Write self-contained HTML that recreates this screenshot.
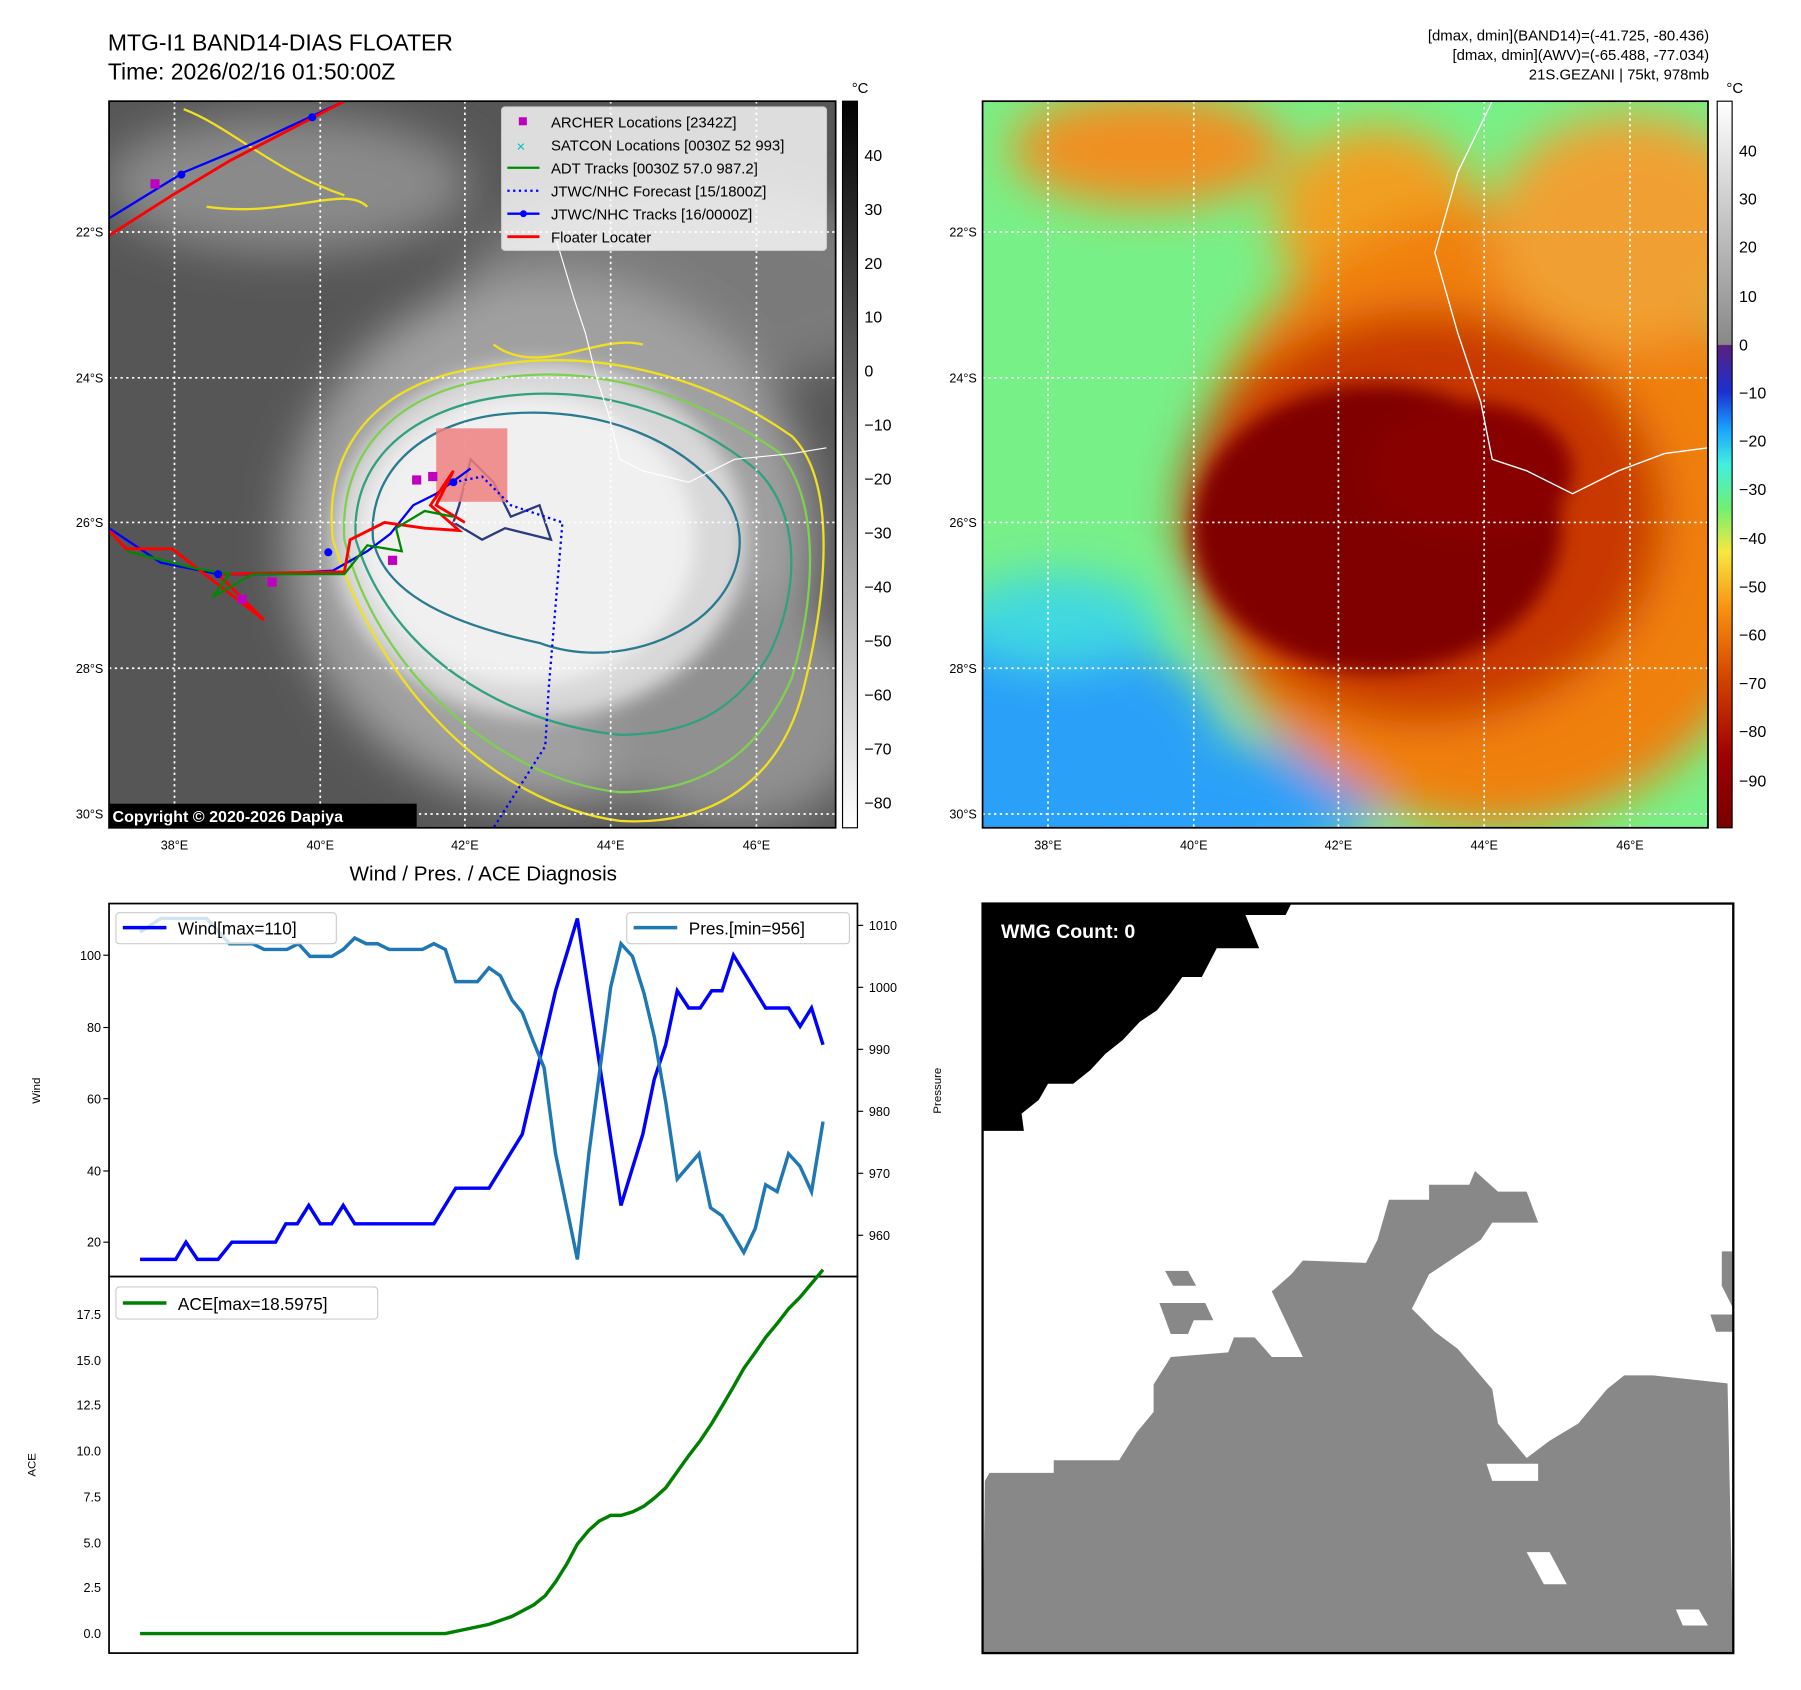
<!DOCTYPE html>
<html><head><meta charset="utf-8"><style>
html,body{margin:0;padding:0;background:#fff}
svg{display:block}
text{font-family:"Liberation Sans","DejaVu Sans",sans-serif}
</style></head><body>
<svg width="1801" height="1690" viewBox="0 0 1569 1472" xmlns="http://www.w3.org/2000/svg">
<defs>
<linearGradient id="cbL" x1="0" y1="1" x2="0" y2="0"><stop offset="0" stop-color="#fff"/><stop offset="1" stop-color="#000"/></linearGradient>
<linearGradient id="cbR" x1="0" y1="0" x2="0" y2="1">
<stop offset="0" stop-color="#ffffff"/><stop offset="0.335" stop-color="#888"/>
<stop offset="0.336" stop-color="#5a2080"/><stop offset="0.4" stop-color="#1a30d0"/><stop offset="0.45" stop-color="#1aa0ff"/><stop offset="0.5" stop-color="#40f0e0"/><stop offset="0.56" stop-color="#70f070"/><stop offset="0.62" stop-color="#f8e840"/><stop offset="0.7" stop-color="#f89010"/><stop offset="0.8" stop-color="#d04000"/><stop offset="0.9" stop-color="#a00000"/><stop offset="1" stop-color="#780000"/></linearGradient>
<filter id="b20" x="-50%" y="-50%" width="200%" height="200%"><feGaussianBlur stdDeviation="20"/></filter>
<filter id="b8" x="-50%" y="-50%" width="200%" height="200%"><feGaussianBlur stdDeviation="8"/></filter>
<clipPath id="cl"><rect x="95" y="88" width="633" height="633"/></clipPath>
<clipPath id="cr"><rect x="856" y="88" width="632" height="633"/></clipPath>
</defs>

<text x="94" y="44" font-size="20">MTG-I1 BAND14-DIAS FLOATER</text>
<text x="94" y="69" font-size="20">Time: 2026/02/16 01:50:00Z</text>
<text x="1489" y="35" font-size="13" text-anchor="end">[dmax, dmin](BAND14)=(-41.725, -80.436)</text>
<text x="1489" y="52" font-size="13" text-anchor="end">[dmax, dmin](AWV)=(-65.488, -77.034)</text>
<text x="1489" y="69" font-size="13" text-anchor="end">21S.GEZANI | 75kt, 978mb</text>

<!-- LEFT MAP -->
<g clip-path="url(#cl)">
<rect x="95" y="88" width="633" height="633" fill="#565656"/>
<g filter="url(#b20)">
<ellipse cx="250" cy="160" rx="160" ry="60" fill="#8a8a8a"/>
<ellipse cx="600" cy="250" rx="200" ry="90" fill="#7a7a7a"/>
<ellipse cx="480" cy="470" rx="230" ry="230" fill="#a0a0a0"/>
<ellipse cx="640" cy="620" rx="120" ry="100" fill="#909090"/>
</g>
<g filter="url(#b8)">
<ellipse cx="470" cy="470" rx="180" ry="155" fill="#d8d8d8"/>
<ellipse cx="460" cy="470" rx="145" ry="125" fill="#f0f0f0"/>
</g>
<g fill="none" stroke-width="2">
<path d="M290,470 C280,380 340,330 420,320 C520,300 620,330 690,380 C730,420 720,520 700,600 C680,680 620,720 540,715 C430,700 330,600 290,470Z" stroke="#f0e020"/>
<path d="M300,470 C295,390 350,340 430,330 C520,315 610,345 680,395 C715,440 710,520 690,590 C660,660 610,690 540,690 C440,680 330,590 300,470Z" stroke="#80d050"/>
<path d="M310,470 C305,400 360,355 440,345 C520,335 600,360 660,410 C700,450 695,520 670,570 C640,620 600,640 540,640 C440,630 340,570 310,470Z" stroke="#30a080"/>
<path d="M325,470 C320,410 370,365 445,360 C520,355 590,380 630,430 C660,470 640,520 600,545 C560,570 510,575 470,560 C400,545 335,520 325,470Z" stroke="#2a7a90"/>
<path d="M400,440 L410,400 L430,420 L445,450 L470,440 L480,470 L440,460 L420,470 L395,455Z" stroke="#2a3a80"/>
<path d="M160,95 C200,110 240,150 300,170 M180,180 C250,190 300,160 320,180 M430,300 C470,330 520,290 560,300" stroke="#f0e020"/>
</g>
<g stroke="#fff" stroke-width="1.5" stroke-dasharray="2,3">
<line x1="152" y1="88" x2="152" y2="721"/><line x1="279" y1="88" x2="279" y2="721"/><line x1="405" y1="88" x2="405" y2="721"/><line x1="532" y1="88" x2="532" y2="721"/><line x1="659" y1="88" x2="659" y2="721"/>
<line x1="95" y1="202" x2="728" y2="202"/><line x1="95" y1="329" x2="728" y2="329"/><line x1="95" y1="455" x2="728" y2="455"/><line x1="95" y1="582" x2="728" y2="582"/><line x1="95" y1="709" x2="728" y2="709"/>
</g>
<path d="M485,210 L500,260 L510,290 L520,330 L530,360 L540,400 L560,410 L600,420 L640,400 L690,395 L720,390" fill="none" stroke="#fff" stroke-width="1"/>
<rect x="380" y="373" width="62" height="64" fill="#f08080" opacity="0.85"/>
<polyline points="95,190 160,150 220,125 300,88" fill="none" stroke="#00f" stroke-width="2"/>
<polyline points="95,205 150,170 200,140 300,88" fill="none" stroke="#f00" stroke-width="2.5"/>
<polyline points="95,460 140,490 190,500 240,500 290,497 320,480 340,465 360,440 380,430 410,408" fill="none" stroke="#00f" stroke-width="2"/>
<polyline points="95,462 110,478 150,478 230,540 190,500 300,498 305,470 335,455 370,460 400,462 375,440 395,410 380,440 405,455" fill="none" stroke="#f00" stroke-width="2.5"/>
<polyline points="110,480 170,495 200,500 185,520 220,500 300,500 320,475 350,480 345,460 370,445 395,450" fill="none" stroke="#080" stroke-width="2"/>
<polyline points="395,420 420,415 445,440 490,455 478,600 475,650 430,721" fill="none" stroke="#00f" stroke-width="2" stroke-dasharray="2,3"/>
<g fill="#00f"><circle cx="158" cy="152" r="3.5"/><circle cx="272" cy="102" r="3.5"/><circle cx="190" cy="500" r="3.5"/><circle cx="286" cy="481" r="3.5"/><circle cx="395" cy="420" r="3.5"/></g>
<g fill="#c000c0"><rect x="131" y="156" width="8" height="8"/><rect x="359" y="414" width="8" height="8"/><rect x="373" y="411" width="8" height="8"/><rect x="338" y="484" width="8" height="8"/><rect x="207" y="518" width="8" height="8"/><rect x="233" y="503" width="8" height="8"/></g>
</g>
<rect x="95" y="88" width="633" height="633" fill="none" stroke="#000" stroke-width="1.5"/>
<rect x="95" y="700" width="268" height="21" fill="#000"/>
<text x="98" y="716" font-size="14" font-weight="bold" fill="#fff">Copyright © 2020-2026 Dapiya</text>
<rect x="437" y="93" width="283" height="125" fill="#fff" fill-opacity="0.8" stroke="#ccc" rx="3"/>
<g font-size="13">
<rect x="452" y="102" width="7" height="7" fill="#c000c0"/><text x="480" y="111">ARCHER Locations [2342Z]</text>
<text x="450" y="132" fill="#00c0c0" font-size="13">×</text><text x="480" y="131">SATCON Locations [0030Z 52 993]</text>
<line x1="442" y1="146" x2="470" y2="146" stroke="#080" stroke-width="2"/><text x="480" y="151">ADT Tracks [0030Z 57.0 987.2]</text>
<line x1="442" y1="166" x2="470" y2="166" stroke="#00f" stroke-width="2" stroke-dasharray="2,3"/><text x="480" y="171">JTWC/NHC Forecast [15/1800Z]</text>
<line x1="442" y1="186" x2="470" y2="186" stroke="#00f" stroke-width="2"/><circle cx="456" cy="186" r="3" fill="#00f"/><text x="480" y="191">JTWC/NHC Tracks [16/0000Z]</text>
<line x1="442" y1="206" x2="470" y2="206" stroke="#f00" stroke-width="2.5"/><text x="480" y="211">Floater Locater</text>
</g>
<rect x="734" y="88" width="13" height="633" fill="url(#cbL)" stroke="#000" stroke-width="1"/>
<text x="742" y="81" font-size="13">°C</text>
<g font-size="14"><text x="753" y="140">40</text><text x="753" y="187">30</text><text x="753" y="234">20</text><text x="753" y="281">10</text><text x="753" y="328">0</text><text x="753" y="375">−10</text><text x="753" y="422">−20</text><text x="753" y="469">−30</text><text x="753" y="516">−40</text><text x="753" y="563">−50</text><text x="753" y="610">−60</text><text x="753" y="657">−70</text><text x="753" y="704">−80</text></g>

<!-- RIGHT MAP -->
<g clip-path="url(#cr)">
<rect x="856" y="88" width="632" height="633" fill="#78f088"/>
<g filter="url(#b20)">
<ellipse cx="890" cy="660" rx="180" ry="120" fill="#2aa0f8"/>
<ellipse cx="1000" cy="700" rx="200" ry="60" fill="#2aa0f8"/>
<ellipse cx="920" cy="540" rx="90" ry="40" fill="#40d8e0"/>
<ellipse cx="1000" cy="130" rx="120" ry="50" fill="#f09020"/>
<ellipse cx="1200" cy="190" rx="90" ry="80" fill="#f0a020"/>
<ellipse cx="1300" cy="450" rx="260" ry="270" fill="#f08010"/>
<ellipse cx="1420" cy="200" rx="120" ry="100" fill="#f0a030"/>
<ellipse cx="1240" cy="450" rx="210" ry="180" fill="#c83800"/>
</g>
<g filter="url(#b8)">
<ellipse cx="1200" cy="460" rx="160" ry="125" fill="#800000"/>
<ellipse cx="1280" cy="410" rx="90" ry="60" fill="#880000"/>
</g>
<g stroke="#fff" stroke-width="1.5" stroke-dasharray="2,3">
<line x1="913" y1="88" x2="913" y2="721"/><line x1="1040" y1="88" x2="1040" y2="721"/><line x1="1166" y1="88" x2="1166" y2="721"/><line x1="1293" y1="88" x2="1293" y2="721"/><line x1="1420" y1="88" x2="1420" y2="721"/>
<line x1="856" y1="202" x2="1488" y2="202"/><line x1="856" y1="329" x2="1488" y2="329"/><line x1="856" y1="455" x2="1488" y2="455"/><line x1="856" y1="582" x2="1488" y2="582"/><line x1="856" y1="709" x2="1488" y2="709"/>
</g>
<path d="M1300,88 L1270,150 L1250,220 L1270,290 L1290,350 L1300,400 L1330,410 L1370,430 L1410,410 L1450,395 L1488,390" fill="none" stroke="#fff" stroke-width="1.2"/>
</g>
<rect x="856" y="88" width="632" height="633" fill="none" stroke="#000" stroke-width="1.5"/>
<rect x="1496" y="88" width="13" height="633" fill="url(#cbR)" stroke="#000" stroke-width="1"/>
<text x="1504" y="81" font-size="13">°C</text>
<g font-size="14"><text x="1515" y="136">40</text><text x="1515" y="178">30</text><text x="1515" y="220">20</text><text x="1515" y="263">10</text><text x="1515" y="305">0</text><text x="1515" y="347">−10</text><text x="1515" y="389">−20</text><text x="1515" y="431">−30</text><text x="1515" y="474">−40</text><text x="1515" y="516">−50</text><text x="1515" y="558">−60</text><text x="1515" y="600">−70</text><text x="1515" y="642">−80</text><text x="1515" y="685">−90</text></g>

<g font-size="11">
<g text-anchor="end"><text x="90" y="206">22°S</text><text x="90" y="333">24°S</text><text x="90" y="459">26°S</text><text x="90" y="586">28°S</text><text x="90" y="713">30°S</text>
<text x="851" y="206">22°S</text><text x="851" y="333">24°S</text><text x="851" y="459">26°S</text><text x="851" y="586">28°S</text><text x="851" y="713">30°S</text></g>
<g text-anchor="middle"><text x="152" y="740">38°E</text><text x="279" y="740">40°E</text><text x="405" y="740">42°E</text><text x="532" y="740">44°E</text><text x="659" y="740">46°E</text>
<text x="913" y="740">38°E</text><text x="1040" y="740">40°E</text><text x="1166" y="740">42°E</text><text x="1293" y="740">44°E</text><text x="1420" y="740">46°E</text></g>
</g>

<!-- WIND / PRES -->
<text x="421" y="767" font-size="18" text-anchor="middle">Wind / Pres. / ACE Diagnosis</text>
<rect x="95" y="787" width="652" height="325" fill="#fff" stroke="#000" stroke-width="1.5"/>
<polyline fill="none" stroke="#00f" stroke-width="3" points="122,1097 153,1097 162,1082 172,1097 190,1097 202,1082 240,1082 249,1066 259,1066 269,1050 279,1066 289,1066 299,1050 309,1066 378,1066 397,1035 426,1035 455,988 484,863 503,800 522,925 541,1050 560,988 570,940 580,910 590,863 600,878 610,878 620,863 629,863 639,832 667,878 687,878 697,894 707,878 717,910"/>
<polyline fill="none" stroke="#1f77b4" stroke-width="3" points="122,812 140,800 180,800 200,822 220,822 230,827 250,827 260,822 270,833 289,833 299,827 309,817 319,822 329,822 339,827 368,827 378,822 388,827 397,855 416,855 426,843 436,850 446,871 455,882 465,908 474,930 484,1005 503,1097 513,1005 532,860 541,822 551,833 561,865 570,903 580,960 590,1027 609,1005 619,1052 629,1059 648,1091 658,1070 667,1032 677,1038 687,1005 697,1016 707,1038 717,977"/>
<g font-size="11" text-anchor="end"><text x="88" y="1086">20</text><text x="88" y="1024">40</text><text x="88" y="961">60</text><text x="88" y="899">80</text><text x="88" y="836">100</text></g>
<g stroke="#000"><line x1="90" y1="1082" x2="95" y2="1082"/><line x1="90" y1="1020" x2="95" y2="1020"/><line x1="90" y1="957" x2="95" y2="957"/><line x1="90" y1="895" x2="95" y2="895"/><line x1="90" y1="832" x2="95" y2="832"/>
<line x1="747" y1="1076" x2="752" y2="1076"/><line x1="747" y1="1022" x2="752" y2="1022"/><line x1="747" y1="968" x2="752" y2="968"/><line x1="747" y1="914" x2="752" y2="914"/><line x1="747" y1="860" x2="752" y2="860"/><line x1="747" y1="806" x2="752" y2="806"/></g>
<g font-size="11"><text x="757" y="1080">960</text><text x="757" y="1026">970</text><text x="757" y="972">980</text><text x="757" y="918">990</text><text x="757" y="864">1000</text><text x="757" y="810">1010</text></g>
<text font-size="10" transform="translate(35,950) rotate(-90)" text-anchor="middle">Wind</text>
<text font-size="10" transform="translate(820,950) rotate(-90)" text-anchor="middle">Pressure</text>
<rect x="101" y="795" width="192" height="27" fill="#fff" fill-opacity="0.8" stroke="#ccc" rx="3"/>
<line x1="107" y1="808" x2="145" y2="808" stroke="#00f" stroke-width="3"/><text x="155" y="814" font-size="15">Wind[max=110]</text>
<rect x="546" y="795" width="194" height="27" fill="#fff" fill-opacity="0.8" stroke="#ccc" rx="3"/>
<line x1="552" y1="808" x2="590" y2="808" stroke="#1f77b4" stroke-width="3"/><text x="600" y="814" font-size="15">Pres.[min=956]</text>

<!-- ACE -->
<rect x="95" y="1112" width="652" height="328" fill="#fff" stroke="#000" stroke-width="1.5"/>
<polyline fill="none" stroke="#008000" stroke-width="3" points="122,1423 388,1423 426,1415 446,1408 465,1398 475,1390 484,1378 494,1362 503,1345 513,1333 522,1325 532,1320 541,1320 551,1317 561,1312 570,1305 580,1296 590,1282 600,1268 610,1255 620,1240 629,1225 639,1208 648,1192 658,1178 667,1165 677,1153 687,1140 697,1130 707,1118 717,1106"/>
<g font-size="11" text-anchor="end"><text x="88" y="1427">0.0</text><text x="88" y="1387">2.5</text><text x="88" y="1348">5.0</text><text x="88" y="1308">7.5</text><text x="88" y="1268">10.0</text><text x="88" y="1228">12.5</text><text x="88" y="1189">15.0</text><text x="88" y="1149">17.5</text></g>
<text font-size="10" transform="translate(31,1276) rotate(-90)" text-anchor="middle">ACE</text>
<rect x="101" y="1121" width="228" height="28" fill="#fff" fill-opacity="0.8" stroke="#ccc" rx="3"/>
<line x1="107" y1="1135" x2="145" y2="1135" stroke="#008000" stroke-width="3"/><text x="155" y="1141" font-size="15">ACE[max=18.5975]</text>

<!-- WMG -->
<rect x="856" y="787" width="654" height="653" fill="#fff"/>
<path d="M856,787 L1125,787 L1120,797 L1085,797 L1097,826 L1060,826 L1047,851 L1030,851 L1020,865 L1008,880 L993,890 L978,906 L963,918 L950,932 L935,944 L913,944 L905,958 L890,970 L892,985 L856,985Z" fill="#000"/>
<path d="M858,1290 L862,1283 L918,1283 L918,1272 L975,1272 L990,1248 L1005,1230 L1005,1206 L1020,1182 L1070,1178 L1075,1165 L1093,1165 L1108,1182 L1135,1182 L1108,1125 L1125,1110 L1135,1098 L1190,1100 L1200,1080 L1210,1045 L1245,1045 L1245,1032 L1280,1032 L1285,1020 L1305,1038 L1330,1038 L1340,1065 L1300,1065 L1290,1080 L1245,1110 L1230,1140 L1250,1160 L1270,1175 L1300,1210 L1305,1240 L1330,1270 L1350,1255 L1375,1240 L1400,1210 L1415,1198 L1440,1198 L1505,1205 L1510,1440 L856,1440Z" fill="#888"/>
<path d="M1295,1275 L1340,1275 L1340,1290 L1300,1290Z" fill="#fff"/>
<path d="M1330,1352 L1350,1352 L1365,1380 L1345,1380Z" fill="#fff"/>
<path d="M1460,1402 L1480,1402 L1488,1416 L1466,1416Z" fill="#fff"/>
<path d="M1015,1107 L1035,1107 L1042,1120 L1022,1120Z M1010,1135 L1050,1135 L1057,1150 L1040,1150 L1035,1162 L1020,1162Z M1500,1090 L1510,1090 L1510,1140 L1500,1120Z M1490,1145 L1510,1145 L1510,1160 L1495,1160Z" fill="#888"/>
<rect x="856" y="787" width="654" height="653" fill="none" stroke="#000" stroke-width="2"/>
<text x="872" y="817" font-size="17" font-weight="bold" fill="#fff">WMG Count: 0</text>
</svg>
</body></html>
